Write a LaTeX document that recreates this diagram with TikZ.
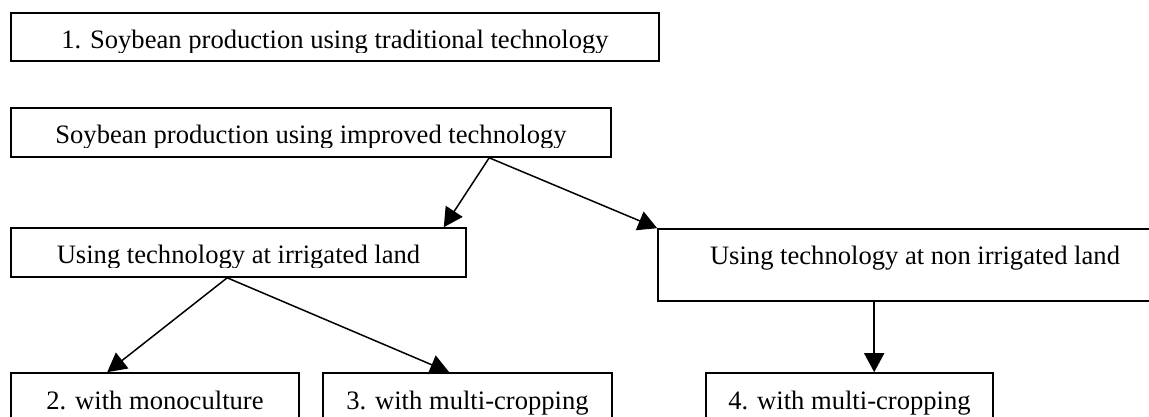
\documentclass[tikz,border=0pt]{standalone}
\usepackage{fontspec}
\setmainfont{Liberation Serif}
\usetikzlibrary{arrows.meta}
\begin{document}
\begin{tikzpicture}[x=1pt,y=-1pt,
  box/.style={draw, line width=1.6pt, inner sep=0pt},
  lbl/.style={anchor=base, inner sep=0pt, font=\fontsize{26.6}{30}\selectfont},
  conn/.style={line width=1.5pt, -{Triangle[length=19pt,width=20pt]}}]
\clip (0,0) rectangle (1149,417);
% boxes
\node[box, minimum width=648, minimum height=48] (b1) at (335,37) {};
\node[box, minimum width=600, minimum height=49] (imp) at (311,132.5) {};
\node[box, minimum width=455, minimum height=49] (irr) at (238.5,252.5) {};
\node[box, minimum width=514, minimum height=72] (nirr) at (915,265) {};
\node[box, minimum width=288, minimum height=57] (m2) at (155,401.5) {};
\node[box, minimum width=289, minimum height=57] (m3) at (467.5,401.5) {};
\node[box, minimum width=287, minimum height=57] (m4) at (849.5,401.5) {};
% labels (clipped like the original text boxes)
\begin{scope}
  \clip (11,13) rectangle (659,52.5);
  \node[lbl] (t1) at (335,48.5) {1. Soybean production using traditional technology};
\end{scope}
\begin{scope}
  \clip (11,108) rectangle (611,147.5);
  \node[lbl] (timp) at (311,143.5) {Soybean production using improved technology};
\end{scope}
\begin{scope}
  \clip (11,228) rectangle (466,267.5);
  \node[lbl] (tirr) at (238.5,263.5) {Using technology at irrigated land};
\end{scope}
\node[lbl] (tnirr) at (915,264) {Using technology at non irrigated land};
\node[lbl] (tm2) at (155,409) {2. with monoculture};
\node[lbl] (tm3) at (467.5,409) {3. with multi-cropping};
\node[lbl] (tm4) at (849.5,409) {4. with multi-cropping};
% connectors
\draw[conn] ([xshift=479pt]imp.south west) -- ([xshift=-23pt]irr.north east);
\draw[conn] ([xshift=479pt]imp.south west) -- (nirr.north west);
\draw[conn] ([xshift=217pt]irr.south west) -- ([xshift=97pt]m2.north west);
\draw[conn] ([xshift=217pt]irr.south west) -- ([xshift=127pt]m3.north west);
\draw[conn] ([xshift=217pt]nirr.south west) -- ([xshift=169pt]m4.north west);
\end{tikzpicture}
\end{document}
